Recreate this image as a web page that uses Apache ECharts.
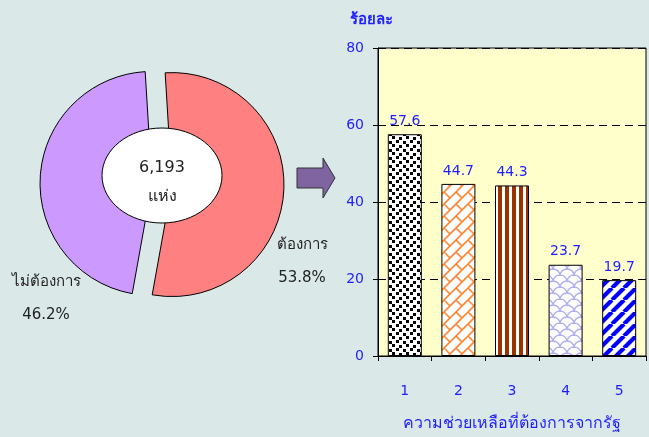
<!DOCTYPE html>
<html><head><meta charset="utf-8">
<script src="https://cdn.jsdelivr.net/npm/echarts@6/dist/echarts.min.js"></script>
<style>html,body{margin:0;padding:0;background:#dae8e8;}#c{width:649px;height:437px;}</style>
</head><body><div id="c"></div>
<script>
// ---- data ----
const pieNames = ['ต้องการ', 'ไม่ต้องการ'];
const pieValues = [53.8, 46.2];
const totalText = '6,193';
const totalUnit = 'แห่ง';
const barCategories = ['1', '2', '3', '4', '5'];
const barValues = [57.6, 44.7, 44.3, 23.7, 19.7];
const yTicks = [0, 20, 40, 60, 80];
const yName = 'ร้อยละ';
const xName = 'ความช่วยเหลือที่ต้องการจากรัฐ';

// ---- patterns ----
function tile(w, h, draw) {
  const c = document.createElement('canvas'); c.width = w; c.height = h;
  const g = c.getContext('2d'); g.fillStyle = '#fff'; g.fillRect(0, 0, w, h); draw(g); return c;
}
const patDots = tile(14, 8, g => {
  g.fillStyle = '#000';
  [[0,0],[7,1],[4,4],[11,5],[-3,5]].forEach(([x,y]) => g.fillRect(x, y, 3, 3));
  g.fillRect(14, 0, 3, 3);
});
const patBrick = tile(24, 24, g => {
  g.strokeStyle = '#ff8533'; g.lineWidth = 1.6;
  g.beginPath();
  for (let s = -48; s <= 72; s += 12) {
    g.moveTo(s - 30, 30); g.lineTo(s + 30, -30);
  }
  for (let s = -48; s <= 72; s += 12) {
    const odd = ((s / 12) % 2 + 2) % 2;
    for (let d = -72; d <= 96; d += 24) {
      const dd = d + (odd ? 12 : 0);
      const x1 = (s + dd) / 2, y1 = (s - dd) / 2;
      const x2 = (s + 12 + dd) / 2, y2 = (s + 12 - dd) / 2;
      g.moveTo(x1, y1); g.lineTo(x2, y2);
    }
  }
  g.stroke();
});
const patStripes = tile(7, 7, g => {
  g.fillStyle = '#993300'; g.fillRect(1, 0, 4, 7);
});
const patScale = tile(14, 12, g => {
  g.strokeStyle = '#aeaef2'; g.lineWidth = 1.3;
  g.beginPath();
  [[0, 0], [7, 6], [0, 12]].forEach(([ox, y0]) => {
    for (let cx = ox - 14; cx <= 28; cx += 14) {
      g.moveTo(cx - 7, y0 + 6); g.arc(cx, y0 + 6, 7, Math.PI, 2 * Math.PI);
    }
  });
  g.stroke();
});
const patDiag = tile(12, 12, g => {
  g.strokeStyle = '#0000ff'; g.lineWidth = 4.2;
  g.beginPath();
  for (let k = -12; k <= 24; k += 12) { g.moveTo(k, 12); g.lineTo(k + 12, 0); }
  g.stroke();
});
const patterns = [patDots, patBrick, patStripes, patScale, patDiag];

const blue = '#1f1fff';
const font = 'Tahoma, "DejaVu Sans", sans-serif';
const pieColors = ['#ff8080', '#cc99ff'];
const labelPos = [[302, 262], [46, 299]];

const pieLabelGraphics = pieNames.map((n, i) => ({
  type: 'text', x: labelPos[i][0], y: labelPos[i][1], z: 101,
  style: { text: n + '\n' + pieValues[i].toFixed(1) + '%', fill: '#222', font: '15px ' + font,
    textAlign: 'center', textVerticalAlign: 'middle', lineHeight: 33 }
}));

const chart = echarts.init(document.getElementById('c'));
chart.setOption({
  backgroundColor: '#dae8e8',
  animation: false,
  textStyle: { fontFamily: font },
  grid: { left: 378, right: 3, top: 48, bottom: 81, outerBoundsMode: 'none', containLabel: false,
    show: true, backgroundColor: '#ffffcc', borderColor: '#000', borderWidth: 1 },
  xAxis: {
    type: 'category', data: barCategories,
    axisLine: { lineStyle: { color: '#000' } },
    axisTick: { show: true, length: 5, lineStyle: { color: '#000' } },
    axisLabel: { color: blue, fontSize: 14, margin: 28 },
    name: xName, nameLocation: 'middle', nameGap: 60,
    nameTextStyle: { color: blue, fontSize: 16 }
  },
  yAxis: {
    type: 'value', min: 0, max: 80, interval: 20,
    axisLine: { show: true, lineStyle: { color: '#000' } },
    axisTick: { show: true, length: 5, lineStyle: { color: '#000' } },
    axisLabel: { color: blue, fontSize: 14, margin: 14 },
    splitLine: { lineStyle: { color: '#000', type: [8, 5] } },
    name: yName, nameLocation: 'end', nameGap: 20,
    nameTextStyle: { color: blue, fontSize: 15, fontWeight: 'bold', align: 'center', padding: [0, 14, 0, 0] }
  },
  series: [
    {
      type: 'bar', barWidth: 34,
      data: barValues.map((v, i) => ({ value: v, itemStyle: { color: { image: patterns[i], repeat: 'repeat' } } })),
      itemStyle: { borderColor: '#000', borderWidth: 1 },
      label: { show: true, position: 'top', color: blue, fontSize: 14, distance: 6, formatter: p => p.value.toFixed(1) }
    },
    {
      type: 'pie', center: [162, 184], radius: [28, 112], startAngle: 93.5, clockwise: true,
      selectedMode: 'multiple', selectedOffset: 10,
      data: pieValues.map((v, i) => ({ value: v, name: pieNames[i], selected: true, itemStyle: { color: pieColors[i] } })),
      itemStyle: { borderColor: '#000', borderWidth: 1 },
      label: { show: false },
      labelLine: { show: false },
      emphasis: { disabled: true }
    }
  ],
  graphic: [
    { type: 'ellipse', shape: { cx: 162, cy: 175.5, rx: 60, ry: 47.5 }, style: { fill: '#fff', stroke: '#000', lineWidth: 1 }, z: 100 },
    { type: 'text', x: 162, y: 182, z: 101, style: { text: totalText + '\n' + totalUnit, fill: '#222', font: '16px ' + font, textAlign: 'center', textVerticalAlign: 'middle', lineHeight: 29 } },
    { type: 'polygon', z: 100, shape: { points: [[297,168],[323,168],[323,158],[335,178],[323,198],[323,188],[297,188]] }, style: { fill: '#8064a2', stroke: '#333', lineWidth: 1 } }
  ].concat(pieLabelGraphics)
});
</script></body></html>
